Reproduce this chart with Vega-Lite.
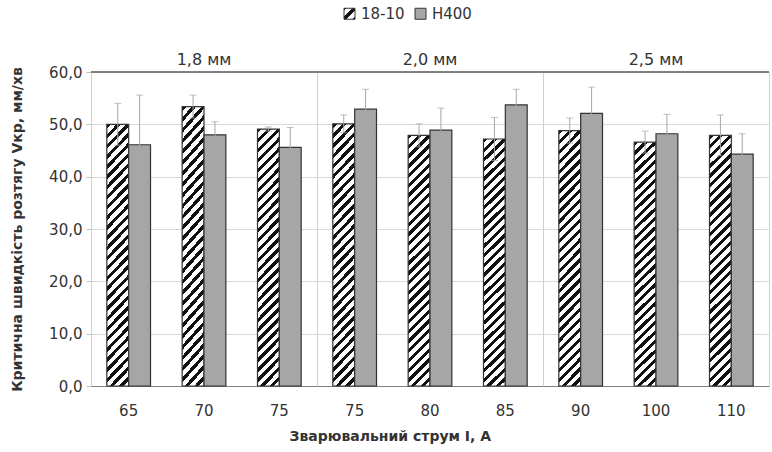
{
 "$schema": "https://vega.github.io/schema/vega-lite/v6.json",
 "padding": {"left": 10, "right": 1, "top": 6, "bottom": 4},
 "background": "white",
 "bounds": "flush",
 "data": {"values": [
  {"d": "1,8 мм", "I": 65, "s": "18-10", "v": 50.0, "lo": 46.0, "hi": 54.0},
  {"d": "1,8 мм", "I": 65, "s": "H400", "v": 46.1, "lo": 36.6, "hi": 55.6},
  {"d": "1,8 мм", "I": 70, "s": "18-10", "v": 53.4, "lo": 51.2, "hi": 55.6},
  {"d": "1,8 мм", "I": 70, "s": "H400", "v": 48.0, "lo": 45.5, "hi": 50.5},
  {"d": "1,8 мм", "I": 75, "s": "18-10", "v": 49.1, "lo": 48.7, "hi": 49.5},
  {"d": "1,8 мм", "I": 75, "s": "H400", "v": 45.6, "lo": 41.8, "hi": 49.4},
  {"d": "2,0 мм", "I": 75, "s": "18-10", "v": 50.1, "lo": 48.4, "hi": 51.8},
  {"d": "2,0 мм", "I": 75, "s": "H400", "v": 52.9, "lo": 49.1, "hi": 56.7},
  {"d": "2,0 мм", "I": 80, "s": "18-10", "v": 47.9, "lo": 45.7, "hi": 50.1},
  {"d": "2,0 мм", "I": 80, "s": "H400", "v": 48.9, "lo": 44.7, "hi": 53.1},
  {"d": "2,0 мм", "I": 85, "s": "18-10", "v": 47.2, "lo": 43.1, "hi": 51.3},
  {"d": "2,0 мм", "I": 85, "s": "H400", "v": 53.7, "lo": 50.7, "hi": 56.7},
  {"d": "2,5 мм", "I": 90, "s": "18-10", "v": 48.8, "lo": 46.4, "hi": 51.2},
  {"d": "2,5 мм", "I": 90, "s": "H400", "v": 52.1, "lo": 47.1, "hi": 57.1},
  {"d": "2,5 мм", "I": 100, "s": "18-10", "v": 46.6, "lo": 44.5, "hi": 48.7},
  {"d": "2,5 мм", "I": 100, "s": "H400", "v": 48.2, "lo": 44.5, "hi": 51.9},
  {"d": "2,5 мм", "I": 110, "s": "18-10", "v": 47.9, "lo": 44.0, "hi": 51.8},
  {"d": "2,5 мм", "I": 110, "s": "H400", "v": 44.3, "lo": 40.4, "hi": 48.2}
 ]},
 "facet": {"column": {"field": "d", "type": "nominal", "sort": ["1,8 мм", "2,0 мм", "2,5 мм"],
   "header": {"title": null, "labelFont": "DejaVu Sans", "labelFontSize": 16, "labelColor": "#333333", "labelPadding": 4}}},
 "spacing": 0,
 "resolve": {"scale": {"x": "independent", "xOffset": "independent"}},
 "title": {"text": "Зварювальний струм I, A", "orient": "bottom", "anchor": "middle", "font": "DejaVu Sans", "fontSize": 14, "fontWeight": "bold", "color": "#333333", "offset": 11},
 "spec": {
  "width": 226,
  "height": 314,
  "layer": [
   {
    "mark": {"type": "bar", "stroke": "#333333", "strokeWidth": 1.2},
    "encoding": {
     "x": {"field": "I", "type": "ordinal", "scale": {"paddingInner": 0.42, "paddingOuter": 0.21},
       "axis": {"title": null, "labelAngle": 0, "ticks": false, "domainColor": "#7f7f7f", "labelFontSize": 15, "labelPadding": 17, "labelColor": "#333333", "labelFont": "DejaVu Sans"}},
     "xOffset": {"field": "s", "type": "nominal", "sort": ["18-10", "H400"], "scale": {"paddingInner": 0, "paddingOuter": 0}},
     "y": {"field": "v", "type": "quantitative", "scale": {"domain": [0, 60]},
       "axis": {"title": "Критична швидкість розтягу Vкр, мм/хв", "titleFont": "DejaVu Sans", "titleFontSize": 14, "titleFontWeight": "bold", "titleColor": "#333333",
         "values": [0, 10, 20, 30, 40, 50, 60], "labelExpr": "replace(format(datum.value,'.1f'),'.',',')",
         "labelFont": "DejaVu Sans", "labelFontSize": 15, "labelColor": "#333333", "gridColor": "#d9d9d9", "domainColor": "#7f7f7f", "tickColor": "#bfbfbf", "tickSize": 5, "labelPadding": 4, "titlePadding": 24}},
     "fill": {
      "condition": {"test": "datum.s === '18-10'", "value": {"gradient": "linear", "x1": 0, "y1": 0, "x2": 0.0938, "y2": 1.0788, "stops": [
        {"offset": 0, "color": "#111111"}, {"offset": 0.016, "color": "#111111"}, {"offset": 0.016, "color": "#ffffff"}, {"offset": 0.0357, "color": "#ffffff"},
        {"offset": 0.0357, "color": "#111111"}, {"offset": 0.0517, "color": "#111111"}, {"offset": 0.0517, "color": "#ffffff"}, {"offset": 0.0714, "color": "#ffffff"},
        {"offset": 0.0714, "color": "#111111"}, {"offset": 0.0874, "color": "#111111"}, {"offset": 0.0874, "color": "#ffffff"}, {"offset": 0.1071, "color": "#ffffff"},
        {"offset": 0.1071, "color": "#111111"}, {"offset": 0.1231, "color": "#111111"}, {"offset": 0.1231, "color": "#ffffff"}, {"offset": 0.1429, "color": "#ffffff"},
        {"offset": 0.1429, "color": "#111111"}, {"offset": 0.1589, "color": "#111111"}, {"offset": 0.1589, "color": "#ffffff"}, {"offset": 0.1786, "color": "#ffffff"},
        {"offset": 0.1786, "color": "#111111"}, {"offset": 0.1946, "color": "#111111"}, {"offset": 0.1946, "color": "#ffffff"}, {"offset": 0.2143, "color": "#ffffff"},
        {"offset": 0.2143, "color": "#111111"}, {"offset": 0.2303, "color": "#111111"}, {"offset": 0.2303, "color": "#ffffff"}, {"offset": 0.25, "color": "#ffffff"},
        {"offset": 0.25, "color": "#111111"}, {"offset": 0.266, "color": "#111111"}, {"offset": 0.266, "color": "#ffffff"}, {"offset": 0.2857, "color": "#ffffff"},
        {"offset": 0.2857, "color": "#111111"}, {"offset": 0.3017, "color": "#111111"}, {"offset": 0.3017, "color": "#ffffff"}, {"offset": 0.3214, "color": "#ffffff"},
        {"offset": 0.3214, "color": "#111111"}, {"offset": 0.3374, "color": "#111111"}, {"offset": 0.3374, "color": "#ffffff"}, {"offset": 0.3571, "color": "#ffffff"},
        {"offset": 0.3571, "color": "#111111"}, {"offset": 0.3731, "color": "#111111"}, {"offset": 0.3731, "color": "#ffffff"}, {"offset": 0.3929, "color": "#ffffff"},
        {"offset": 0.3929, "color": "#111111"}, {"offset": 0.4089, "color": "#111111"}, {"offset": 0.4089, "color": "#ffffff"}, {"offset": 0.4286, "color": "#ffffff"},
        {"offset": 0.4286, "color": "#111111"}, {"offset": 0.4446, "color": "#111111"}, {"offset": 0.4446, "color": "#ffffff"}, {"offset": 0.4643, "color": "#ffffff"},
        {"offset": 0.4643, "color": "#111111"}, {"offset": 0.4803, "color": "#111111"}, {"offset": 0.4803, "color": "#ffffff"}, {"offset": 0.5, "color": "#ffffff"},
        {"offset": 0.5, "color": "#111111"}, {"offset": 0.516, "color": "#111111"}, {"offset": 0.516, "color": "#ffffff"}, {"offset": 0.5357, "color": "#ffffff"},
        {"offset": 0.5357, "color": "#111111"}, {"offset": 0.5517, "color": "#111111"}, {"offset": 0.5517, "color": "#ffffff"}, {"offset": 0.5714, "color": "#ffffff"},
        {"offset": 0.5714, "color": "#111111"}, {"offset": 0.5874, "color": "#111111"}, {"offset": 0.5874, "color": "#ffffff"}, {"offset": 0.6071, "color": "#ffffff"},
        {"offset": 0.6071, "color": "#111111"}, {"offset": 0.6231, "color": "#111111"}, {"offset": 0.6231, "color": "#ffffff"}, {"offset": 0.6429, "color": "#ffffff"},
        {"offset": 0.6429, "color": "#111111"}, {"offset": 0.6589, "color": "#111111"}, {"offset": 0.6589, "color": "#ffffff"}, {"offset": 0.6786, "color": "#ffffff"},
        {"offset": 0.6786, "color": "#111111"}, {"offset": 0.6946, "color": "#111111"}, {"offset": 0.6946, "color": "#ffffff"}, {"offset": 0.7143, "color": "#ffffff"},
        {"offset": 0.7143, "color": "#111111"}, {"offset": 0.7303, "color": "#111111"}, {"offset": 0.7303, "color": "#ffffff"}, {"offset": 0.75, "color": "#ffffff"},
        {"offset": 0.75, "color": "#111111"}, {"offset": 0.766, "color": "#111111"}, {"offset": 0.766, "color": "#ffffff"}, {"offset": 0.7857, "color": "#ffffff"},
        {"offset": 0.7857, "color": "#111111"}, {"offset": 0.8017, "color": "#111111"}, {"offset": 0.8017, "color": "#ffffff"}, {"offset": 0.8214, "color": "#ffffff"},
        {"offset": 0.8214, "color": "#111111"}, {"offset": 0.8374, "color": "#111111"}, {"offset": 0.8374, "color": "#ffffff"}, {"offset": 0.8571, "color": "#ffffff"},
        {"offset": 0.8571, "color": "#111111"}, {"offset": 0.8731, "color": "#111111"}, {"offset": 0.8731, "color": "#ffffff"}, {"offset": 0.8929, "color": "#ffffff"},
        {"offset": 0.8929, "color": "#111111"}, {"offset": 0.9089, "color": "#111111"}, {"offset": 0.9089, "color": "#ffffff"}, {"offset": 0.9286, "color": "#ffffff"},
        {"offset": 0.9286, "color": "#111111"}, {"offset": 0.9446, "color": "#111111"}, {"offset": 0.9446, "color": "#ffffff"}, {"offset": 0.9643, "color": "#ffffff"},
        {"offset": 0.9643, "color": "#111111"}, {"offset": 0.9803, "color": "#111111"}, {"offset": 0.9803, "color": "#ffffff"}, {"offset": 1, "color": "#ffffff"}
      ]}},
      "field": "s", "type": "nominal",
      "scale": {"domain": ["18-10", "H400"], "range": [
        {"expr": "{gradient: 'linear', x1: 0, y1: 0, x2: 1, y2: 1, stops: [{offset: 0, color: '#111111'}, {offset: 0.12, color: '#111111'}, {offset: 0.12, color: '#ffffff'}, {offset: 0.38, color: '#ffffff'}, {offset: 0.38, color: '#111111'}, {offset: 0.62, color: '#111111'}, {offset: 0.62, color: '#ffffff'}, {offset: 0.88, color: '#ffffff'}, {offset: 0.88, color: '#111111'}, {offset: 1, color: '#111111'}]}"},
        "#a6a6a6"]},
      "legend": {"title": null, "orient": "none", "direction": "horizontal", "legendX": 251, "legendY": -66,
        "symbolType": "square", "symbolSize": 121, "symbolStrokeColor": "#333333", "symbolStrokeWidth": 1,
        "labelFont": "DejaVu Sans", "labelFontSize": 15, "labelColor": "#333333", "columnPadding": 8, "labelOffset": 4}
     }
    }
   },
   {
    "mark": {"type": "rule", "color": "#a6a6a6", "strokeWidth": 1},
    "encoding": {
     "x": {"field": "I", "type": "ordinal"},
     "xOffset": {"field": "s", "type": "nominal", "sort": ["18-10", "H400"]},
     "y": {"field": "lo", "type": "quantitative"},
     "y2": {"field": "hi"}
    }
   },
   {
    "mark": {"type": "tick", "color": "#a6a6a6", "size": 7, "thickness": 1},
    "encoding": {
     "x": {"field": "I", "type": "ordinal"},
     "xOffset": {"field": "s", "type": "nominal", "sort": ["18-10", "H400"]},
     "y": {"field": "hi", "type": "quantitative"}
    }
   },
   {
    "mark": {"type": "tick", "color": "#a6a6a6", "size": 7, "thickness": 1},
    "encoding": {
     "x": {"field": "I", "type": "ordinal"},
     "xOffset": {"field": "s", "type": "nominal", "sort": ["18-10", "H400"]},
     "y": {"field": "lo", "type": "quantitative"}
    }
   },
   {
    "mark": {"type": "rule", "color": "#7f7f7f", "strokeWidth": 1},
    "encoding": {"y": {"datum": 60}}
   }
  ]
 },
 "config": {
  "font": "DejaVu Sans",
  "view": {"stroke": "#d0d0d0"}
 }
}
